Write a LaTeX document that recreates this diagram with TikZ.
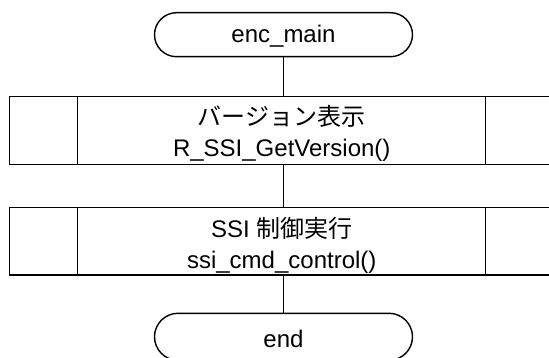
\documentclass[tikz,border=0pt]{standalone}
\usepackage{fontspec}
\setmainfont{Liberation Sans}
\newfontfamily\cjk{Noto Sans CJK JP}
\usetikzlibrary{shapes.misc,calc}
\begin{document}
\begin{tikzpicture}[x=1pt,y=-1pt,line width=1.4pt,
  txt/.style={font=\fontsize{24}{28}\selectfont,inner sep=0pt,anchor=base},
  term/.style={draw,rounded rectangle,minimum width=258pt,minimum height=44pt,inner sep=0pt},
  procbox/.style={draw,rectangle,minimum width=545.5pt,minimum height=67.5pt,inner sep=0pt}]
\useasboundingbox (0,0) rectangle (549,358);
\clip (0,0) rectangle (549,358);
% terminals
\node[term] (t1) at (283.5,34.7) {};
\node[term,minimum height=47pt] (t2) at (283.5,336.8) {};
\node[txt] (t1l) at ($(t1.center)+(0,8.3)$) {enc\_main};
\node[txt] (t2l) at ($(t2.center)+(0,10.2)$) {end};
% process boxes
\node[procbox] (b1) at (282.25,130.5) {};
\node[procbox] (b2) at (282.25,241.2) {};
\foreach \b in {b1,b2}{
  \draw (\b.north west) ++(68.5,0) -- ++(0,67.5);
  \draw (\b.north west) ++(476.5,0) -- ++(0,67.5);
}
\node[txt] (b1a) at ($(b1.center)+(-0.5,-4.5)$) {\cjk バージョン表示};
\node[txt] (b1b) at ($(b1.center)+(-0.5,26.5)$) {R\_SSI\_GetVersion()};
\node[txt] (b2a) at ($(b2.center)+(-0.5,-4)$) {SSI {\cjk 制御実行}};
\node[txt] (b2b) at ($(b2.center)+(-0.5,27)$) {ssi\_cmd\_control()};
% connectors
\draw (t1.south) -- (t1.south |- b1.north);
\draw (t1.south |- b1.south) -- (t1.south |- b2.north);
\draw (t1.south |- b2.south) -- (t2.north);
\end{tikzpicture}
\end{document}
